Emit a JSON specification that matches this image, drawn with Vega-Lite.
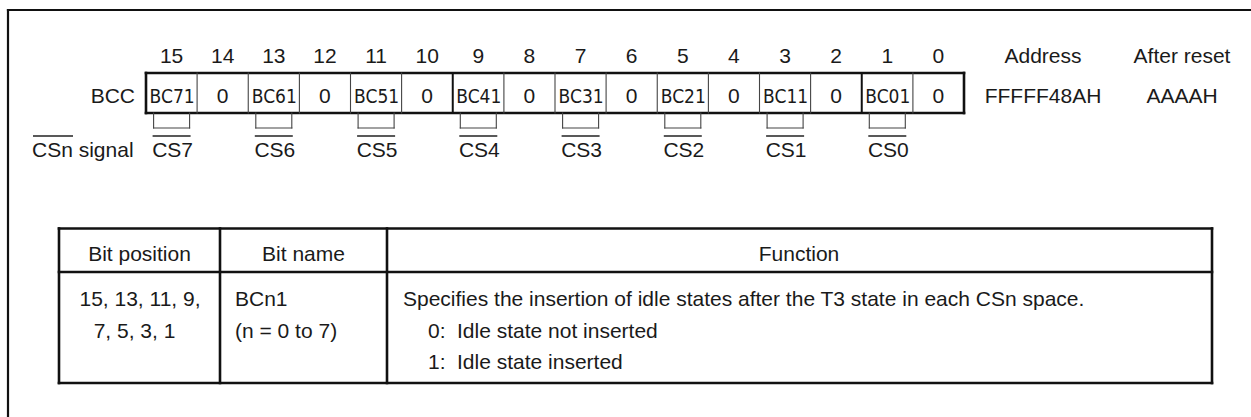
{
  "$schema": "https://vega.github.io/schema/vega-lite/v6.json",
  "width": 1251,
  "height": 417,
  "autosize": "none",
  "padding": 0,
  "background": "white",
  "config": {"view": {"stroke": null}},
  "datasets": {
    "frame": [
      {"x": 8, "y": 10, "x2": 1251, "y2": 10},
      {"x": 8, "y": 10, "x2": 8, "y2": 417}
    ],
    "heavy": [
      {"x": 146, "y": 73, "x2": 964, "y2": 73},
      {"x": 146, "y": 113, "x2": 964, "y2": 113},
      {"x": 146, "y": 73, "x2": 146, "y2": 113},
      {"x": 964, "y": 73, "x2": 964, "y2": 113},
      {"x": 59, "y": 228.5, "x2": 1212, "y2": 228.5},
      {"x": 59, "y": 383, "x2": 1212, "y2": 383},
      {"x": 59, "y": 228.5, "x2": 59, "y2": 383},
      {"x": 1212, "y": 228.5, "x2": 1212, "y2": 383},
      {"x": 59, "y": 272, "x2": 1212, "y2": 272},
      {"x": 220, "y": 228.5, "x2": 220, "y2": 383},
      {"x": 387, "y": 228.5, "x2": 387, "y2": 383}
    ],
    "medium": [
      {"x": 452.75, "y": 73, "x2": 452.75, "y2": 113},
      {"x": 861.75, "y": 73, "x2": 861.75, "y2": 113}
    ],
    "thin": [
      {"x": 197.1, "y": 73, "x2": 197.1, "y2": 113},
      {"x": 248.25, "y": 73, "x2": 248.25, "y2": 113},
      {"x": 299.4, "y": 73, "x2": 299.4, "y2": 113},
      {"x": 350.5, "y": 73, "x2": 350.5, "y2": 113},
      {"x": 401.6, "y": 73, "x2": 401.6, "y2": 113},
      {"x": 503.9, "y": 73, "x2": 503.9, "y2": 113},
      {"x": 555, "y": 73, "x2": 555, "y2": 113},
      {"x": 606.1, "y": 73, "x2": 606.1, "y2": 113},
      {"x": 657.25, "y": 73, "x2": 657.25, "y2": 113},
      {"x": 708.4, "y": 73, "x2": 708.4, "y2": 113},
      {"x": 759.5, "y": 73, "x2": 759.5, "y2": 113},
      {"x": 810.6, "y": 73, "x2": 810.6, "y2": 113},
      {"x": 912.9, "y": 73, "x2": 912.9, "y2": 113},
      {"x": 153.6, "y": 113, "x2": 153.6, "y2": 128},
      {"x": 189.6, "y": 113, "x2": 189.6, "y2": 128},
      {"x": 153.6, "y": 128, "x2": 189.6, "y2": 128},
      {"x": 255.8, "y": 113, "x2": 255.8, "y2": 128},
      {"x": 291.8, "y": 113, "x2": 291.8, "y2": 128},
      {"x": 255.8, "y": 128, "x2": 291.8, "y2": 128},
      {"x": 358.1, "y": 113, "x2": 358.1, "y2": 128},
      {"x": 394.1, "y": 113, "x2": 394.1, "y2": 128},
      {"x": 358.1, "y": 128, "x2": 394.1, "y2": 128},
      {"x": 460.3, "y": 113, "x2": 460.3, "y2": 128},
      {"x": 496.3, "y": 113, "x2": 496.3, "y2": 128},
      {"x": 460.3, "y": 128, "x2": 496.3, "y2": 128},
      {"x": 562.6, "y": 113, "x2": 562.6, "y2": 128},
      {"x": 598.6, "y": 113, "x2": 598.6, "y2": 128},
      {"x": 562.6, "y": 128, "x2": 598.6, "y2": 128},
      {"x": 664.8, "y": 113, "x2": 664.8, "y2": 128},
      {"x": 700.8, "y": 113, "x2": 700.8, "y2": 128},
      {"x": 664.8, "y": 128, "x2": 700.8, "y2": 128},
      {"x": 767.1, "y": 113, "x2": 767.1, "y2": 128},
      {"x": 803.1, "y": 113, "x2": 803.1, "y2": 128},
      {"x": 767.1, "y": 128, "x2": 803.1, "y2": 128},
      {"x": 869.3, "y": 113, "x2": 869.3, "y2": 128},
      {"x": 905.3, "y": 113, "x2": 905.3, "y2": 128},
      {"x": 869.3, "y": 128, "x2": 905.3, "y2": 128}
    ],
    "overlines": [
      {"x": 33, "y": 136, "x2": 73, "y2": 136},
      {"x": 152.6, "y": 136, "x2": 190.6, "y2": 136},
      {"x": 254.8, "y": 136, "x2": 292.8, "y2": 136},
      {"x": 357.1, "y": 136, "x2": 395.1, "y2": 136},
      {"x": 459.3, "y": 136, "x2": 497.3, "y2": 136},
      {"x": 561.6, "y": 136, "x2": 599.6, "y2": 136},
      {"x": 663.8, "y": 136, "x2": 701.8, "y2": 136},
      {"x": 766.1, "y": 136, "x2": 804.1, "y2": 136},
      {"x": 868.3, "y": 136, "x2": 906.3, "y2": 136}
    ],
    "text_center": [
      {"x": 171.6, "y": 63, "label": "15"},
      {"x": 222.7, "y": 63, "label": "14"},
      {"x": 273.8, "y": 63, "label": "13"},
      {"x": 324.9, "y": 63, "label": "12"},
      {"x": 376.1, "y": 63, "label": "11"},
      {"x": 427.2, "y": 63, "label": "10"},
      {"x": 478.3, "y": 63, "label": "9"},
      {"x": 529.4, "y": 63, "label": "8"},
      {"x": 580.6, "y": 63, "label": "7"},
      {"x": 631.7, "y": 63, "label": "6"},
      {"x": 682.8, "y": 63, "label": "5"},
      {"x": 733.9, "y": 63, "label": "4"},
      {"x": 785.1, "y": 63, "label": "3"},
      {"x": 836.2, "y": 63, "label": "2"},
      {"x": 887.3, "y": 63, "label": "1"},
      {"x": 938.4, "y": 63, "label": "0"},
      {"x": 222.7, "y": 103, "label": "0"},
      {"x": 324.9, "y": 103, "label": "0"},
      {"x": 427.2, "y": 103, "label": "0"},
      {"x": 529.4, "y": 103, "label": "0"},
      {"x": 631.7, "y": 103, "label": "0"},
      {"x": 733.9, "y": 103, "label": "0"},
      {"x": 836.2, "y": 103, "label": "0"},
      {"x": 938.4, "y": 103, "label": "0"},
      {"x": 1043, "y": 63, "label": "Address"},
      {"x": 1182, "y": 63, "label": "After reset"},
      {"x": 1043, "y": 103, "label": "FFFFF48AH"},
      {"x": 1182, "y": 103, "label": "AAAAH"},
      {"x": 172.6, "y": 157, "label": "CS7"},
      {"x": 274.8, "y": 157, "label": "CS6"},
      {"x": 377.1, "y": 157, "label": "CS5"},
      {"x": 479.3, "y": 157, "label": "CS4"},
      {"x": 581.6, "y": 157, "label": "CS3"},
      {"x": 683.8, "y": 157, "label": "CS2"},
      {"x": 786.1, "y": 157, "label": "CS1"},
      {"x": 888.3, "y": 157, "label": "CS0"},
      {"x": 139.5, "y": 261, "label": "Bit position"},
      {"x": 303.5, "y": 261, "label": "Bit name"},
      {"x": 799, "y": 261, "label": "Function"},
      {"x": 140, "y": 306, "label": "15, 13, 11, 9,"},
      {"x": 134.5, "y": 337.5, "label": "7, 5, 3, 1"}
    ],
    "text_left": [
      {"x": 32, "y": 157, "label": "CSn signal"},
      {"x": 235, "y": 306, "label": "BCn1"},
      {"x": 235, "y": 337.5, "label": "(n = 0 to 7)"},
      {"x": 403, "y": 306, "label": "Specifies the insertion of idle states after the T3 state in each CSn space."},
      {"x": 428, "y": 337.5, "label": "0:"},
      {"x": 457, "y": 337.5, "label": "Idle state not inserted"},
      {"x": 428, "y": 369, "label": "1:"},
      {"x": 457, "y": 369, "label": "Idle state inserted"}
    ],
    "text_right": [
      {"x": 135, "y": 103, "label": "BCC"}
    ],
    "text_narrow": [
      {"x": 172.1, "y": 103, "label": "BC71"},
      {"x": 274.3, "y": 103, "label": "BC61"},
      {"x": 376.6, "y": 103, "label": "BC51"},
      {"x": 478.8, "y": 103, "label": "BC41"},
      {"x": 581.1, "y": 103, "label": "BC31"},
      {"x": 683.3, "y": 103, "label": "BC21"},
      {"x": 785.6, "y": 103, "label": "BC11"},
      {"x": 887.8, "y": 103, "label": "BC01"}
    ]
  },
  "encoding": {
    "x": {"field": "x", "type": "quantitative", "scale": {"domain": [0, 1251], "nice": false, "zero": false}, "axis": null},
    "y": {"field": "y", "type": "quantitative", "scale": {"domain": [0, 417], "nice": false, "zero": false, "reverse": true}, "axis": null}
  },
  "layer": [
    {
      "data": {"name": "frame"},
      "mark": {"type": "rule", "color": "#111111", "strokeWidth": 2.2, "strokeCap": "square"},
      "encoding": {"x2": {"field": "x2"}, "y2": {"field": "y2"}}
    },
    {
      "data": {"name": "heavy"},
      "mark": {"type": "rule", "color": "#111111", "strokeWidth": 2.6, "strokeCap": "square"},
      "encoding": {"x2": {"field": "x2"}, "y2": {"field": "y2"}}
    },
    {
      "data": {"name": "medium"},
      "mark": {"type": "rule", "color": "#111111", "strokeWidth": 2},
      "encoding": {"x2": {"field": "x2"}, "y2": {"field": "y2"}}
    },
    {
      "data": {"name": "thin"},
      "mark": {"type": "rule", "color": "#444444", "strokeWidth": 1.1, "strokeCap": "square"},
      "encoding": {"x2": {"field": "x2"}, "y2": {"field": "y2"}}
    },
    {
      "data": {"name": "overlines"},
      "mark": {"type": "rule", "color": "#222222", "strokeWidth": 1.3},
      "encoding": {"x2": {"field": "x2"}, "y2": {"field": "y2"}}
    },
    {
      "data": {"name": "text_center"},
      "mark": {"type": "text", "align": "center", "baseline": "alphabetic", "font": "Liberation Sans", "fontSize": 21, "color": "#1a1a1a"},
      "encoding": {"text": {"field": "label"}}
    },
    {
      "data": {"name": "text_left"},
      "mark": {"type": "text", "align": "left", "baseline": "alphabetic", "font": "Liberation Sans", "fontSize": 21, "color": "#1a1a1a"},
      "encoding": {"text": {"field": "label"}}
    },
    {
      "data": {"name": "text_right"},
      "mark": {"type": "text", "align": "right", "baseline": "alphabetic", "font": "Liberation Sans", "fontSize": 21, "color": "#1a1a1a"},
      "encoding": {"text": {"field": "label"}}
    },
    {
      "data": {"name": "text_narrow"},
      "mark": {"type": "text", "align": "center", "baseline": "alphabetic", "font": "Liberation Sans Narrow, DejaVu Sans Condensed, Liberation Sans", "fontSize": 19, "color": "#1a1a1a"},
      "encoding": {"text": {"field": "label"}}
    }
  ]
}
